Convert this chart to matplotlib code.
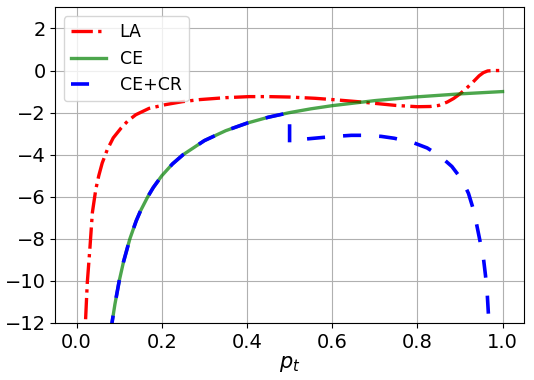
import numpy as np
import matplotlib
matplotlib.use('Agg')
import matplotlib.pyplot as plt

# values
p_la = [0.018, 0.020, 0.025, 0.031, 0.037, 0.045, 0.052, 0.060, 0.072, 0.086,
        0.105, 0.12, 0.139, 0.17, 0.209, 0.248, 0.29, 0.35, 0.405, 0.45,
        0.5, 0.56, 0.6, 0.66, 0.7, 0.75, 0.8, 0.83, 0.85, 0.87, 0.885, 0.9,
        0.915, 0.93, 0.945, 0.955, 0.965, 0.98, 1.0]
y_la = [-13.5, -12.3, -10.1, -8.5, -6.75, -5.65, -5.0, -4.4, -3.76, -3.2,
        -2.72, -2.4, -2.1, -1.8, -1.62, -1.48, -1.38, -1.29, -1.24, -1.24,
        -1.26, -1.32, -1.38, -1.48, -1.56, -1.66, -1.72, -1.71, -1.66, -1.5, -1.33, -1.11,
        -0.85, -0.56, -0.25, -0.1, -0.02, 0.0, 0.0]

p_ce = [0.08, 0.083, 0.09, 0.1, 0.11, 0.125, 0.14, 0.15, 0.167, 0.18, 0.2,
        0.225, 0.25, 0.3, 0.35, 0.4, 0.45, 0.5, 0.55, 0.6, 0.7, 0.8, 0.9, 1.0]
y_ce = [-12.5, -12.0, -11.1, -10.0, -9.1, -8.0, -7.14, -6.67, -6.0, -5.56, -5.0,
        -4.44, -4.0, -3.33, -2.86, -2.5, -2.22, -2.0, -1.82, -1.67, -1.43, -1.25, -1.11, -1.0]

p_cr = [0.08, 0.083, 0.09, 0.1, 0.11, 0.125, 0.14, 0.15, 0.167, 0.18, 0.2,
        0.225, 0.25, 0.3, 0.35, 0.4, 0.45, 0.5, 0.5, 0.53, 0.6, 0.645, 0.676,
        0.715, 0.746, 0.792, 0.823, 0.854, 0.881, 0.905, 0.92, 0.933, 0.94,
        0.948, 0.955, 0.96, 0.964, 0.968, 0.97]
y_cr = [-12.5, -12.0, -11.1, -10.0, -9.1, -8.0, -7.14, -6.67, -6.0, -5.56, -5.0,
        -4.44, -4.0, -3.33, -2.86, -2.5, -2.22, -2.0, -3.42, -3.27, -3.14, -3.08, -3.08,
        -3.13, -3.22, -3.44, -3.68, -4.08, -4.56, -5.2, -5.84, -6.7, -7.4,
        -8.2, -8.9, -9.75, -10.6, -12.0, -13.0]

x_ticks = [0.0, 0.2, 0.4, 0.6, 0.8, 1.0]
y_ticks = [-12, -10, -8, -6, -4, -2, 0, 2]

fig = plt.figure(figsize=(5.34, 3.80), dpi=100)
ax = fig.add_axes([0.1036, 0.150, 0.8774, 0.8305])

ax.plot(p_la, y_la, 'r-.', lw=2.4, label='LA')
ax.plot(p_ce, y_ce, 'g-', lw=2.4, alpha=0.7, label='CE')
ax.plot(p_cr, y_cr, color='b', linestyle=(0, (5, 5)), lw=2.6, label='CE+CR')

ax.set_xlim(-0.05, 1.05)
ax.set_ylim(-12, 3)
ax.set_xticks(x_ticks)
ax.set_yticks(y_ticks)
ax.tick_params(labelsize=14)
ax.set_xlabel('$p_t$', fontsize=15, labelpad=2)
ax.grid(True)
ax.legend(loc='upper left', fontsize=12.5)

fig.savefig('out.png', dpi=100)
